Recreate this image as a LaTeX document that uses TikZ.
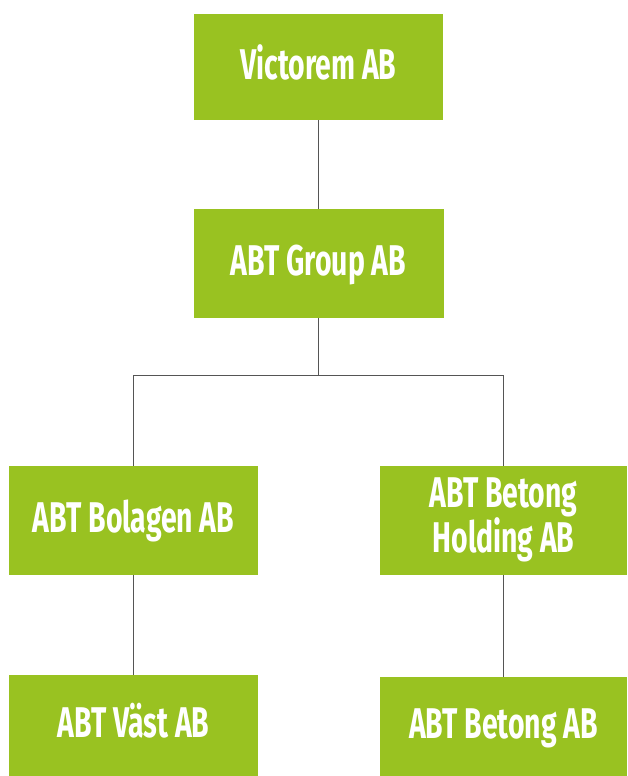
\documentclass[tikz,border=0pt]{standalone}
\usepackage{fontspec}
\setmainfont{Fira Sans}[FakeStretch=0.66]
\definecolor{boxgreen}{HTML}{99C221}
\definecolor{linegray}{HTML}{555555}
\begin{document}
\begin{tikzpicture}[x=1pt,y=-1pt,
  orgbox/.style={fill=boxgreen, draw=none, text=white, align=center,
    font=\fontsize{43}{40}\selectfont\bfseries, inner sep=0pt, text height=24pt, text depth=0pt},
  link/.style={draw=linegray, line width=0.9pt}]
\useasboundingbox (0,0) rectangle (627,776);
\node[orgbox, minimum width=249pt, minimum height=106pt] (vic) at (318.5,67) {Victorem AB};
\node[orgbox, minimum width=250pt, minimum height=109pt] (grp) at (318.5,263.5) {ABT Group AB};
\node[orgbox, minimum width=249pt, minimum height=109pt] (bol) at (133.5,520.5) {ABT Bolagen AB};
\node[orgbox, minimum width=247pt, minimum height=109pt, text height=64pt] (hold) at (503.5,520.5) {ABT Betong\\Holding AB};
\node[orgbox, minimum width=249pt, minimum height=101pt] (vast) at (133.5,725.5) {ABT Väst AB};
\node[orgbox, minimum width=247pt, minimum height=99pt] (bet) at (503.5,726.5) {ABT Betong AB};
\coordinate (mid) at (318.5,375.5);
\draw[link] (vic.south) -- (grp.north);
\draw[link] (grp.south) -- (mid);
\draw[link] (bol.north) |- (mid) -| (hold.north);
\draw[link] (bol.south) -- (vast.north);
\draw[link] (hold.south) -- (bet.north);
\end{tikzpicture}
\end{document}
